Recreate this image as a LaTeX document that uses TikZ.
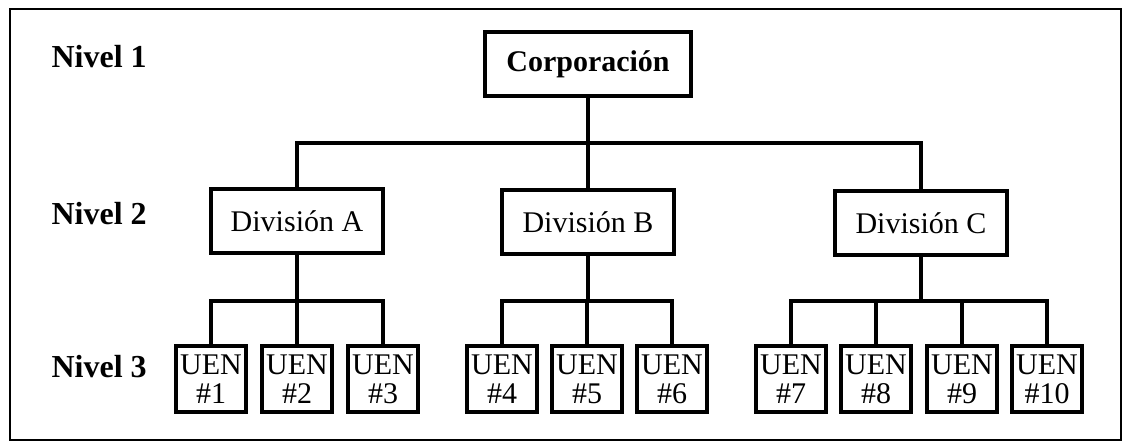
\documentclass[tikz,border=0pt]{standalone}
\usepackage{fontspec}
\setmainfont{Liberation Serif}

\begin{document}
\begin{tikzpicture}[
    x=0.5pt, y=-0.5pt,
    line width=1.6pt,
    every node/.style={font=\fontsize{15}{14.5}\selectfont},
    level/.style={anchor=west, inner sep=0pt, font=\fontsize{16}{16}\selectfont\bfseries},
    corpbox/.style={draw, minimum width=103pt, minimum height=32pt, font=\fontsize{15}{15}\selectfont\bfseries},
    divbox/.style={draw, minimum width=86pt, minimum height=32pt},
    uen/.style={draw, align=center, inner sep=0pt, minimum width=35pt, minimum height=33pt}
]

    % Frame and page size
    \useasboundingbox (0,0) rectangle (1125,442);
    \draw[line width=1.3pt] (10,9) rectangle (1121,440);

    % Level labels
    \node[level] (n1) at (50,57)  {Nivel 1};
    \node[level] (n2) at (50,214) {Nivel 2};
    \node[level] (n3) at (50,367) {Nivel 3};

    % Corporation and divisions
    \node[corpbox] (corp) at (588,64) {Corporación};
    \node[divbox] (divA) at (297,221) {División A};
    \node[divbox] (divB) at (588,222) {División B};
    \node[divbox] (divC) at (921,223) {División C};

    % Business units
    \foreach \n/\x in {1/211, 2/297, 3/383, 4/502, 5/587, 6/672, 7/791, 8/876, 9/962, 10/1047}
        \node[uen] (u\n) at (\x,379) {UEN\\\#\n};

    % Junction points
    \coordinate (jTop) at (588,143);
    \coordinate (jA) at (297,301);
    \coordinate (jB) at (588,301);
    \coordinate (jC) at (921,301);

    % Level 1 to level 2
    \draw (corp) -- (divB);
    \draw (divA) -- (divA |- jTop) -- (divC |- jTop) -- (divC);

    % Level 2 to level 3
    \draw (divA) -- (jA);
    \draw (u1) -- (u1 |- jA) -- (u3 |- jA) -- (u3);
    \draw (u2) -- (u2 |- jA);

    \draw (divB) -- (jB);
    \draw (u4) -- (u4 |- jB) -- (u6 |- jB) -- (u6);
    \draw (u5) -- (u5 |- jB);

    \draw (divC) -- (jC);
    \draw (u7) -- (u7 |- jC) -- (u10 |- jC) -- (u10);
    \draw (u8) -- (u8 |- jC);
    \draw (u9) -- (u9 |- jC);

\end{tikzpicture}
\end{document}
